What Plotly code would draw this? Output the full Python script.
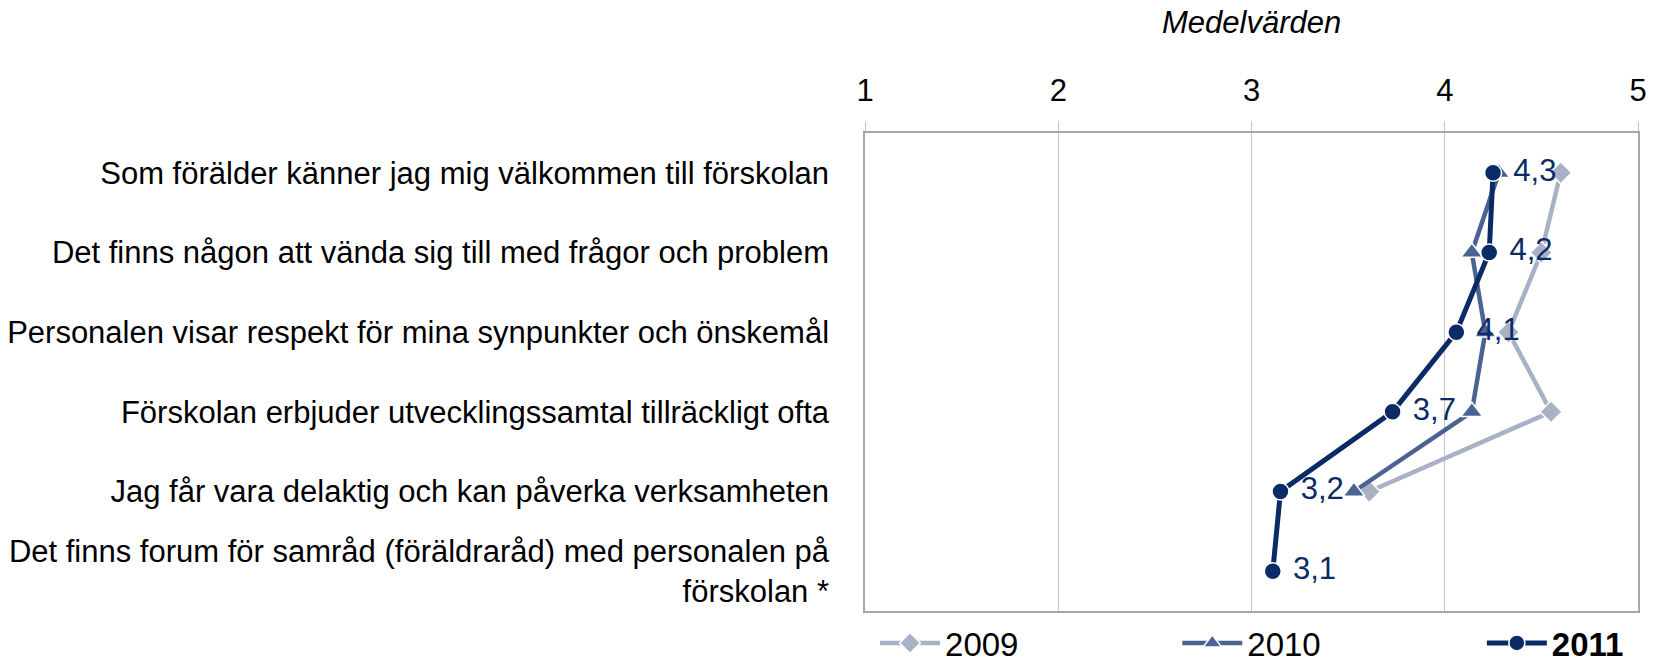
import plotly.graph_objects as go

categories = [
    "Som förälder känner jag mig välkommen till förskolan",
    "Det finns någon att vända sig till med frågor och problem",
    "Personalen visar respekt för mina synpunkter och önskemål",
    "Förskolan erbjuder utvecklingssamtal tillräckligt ofta",
    "Jag får vara delaktig och kan påverka verksamheten",
    "Det finns forum för samråd (föräldraråd) med personalen på<br>förskolan *",
]
v2009 = [4.60, 4.50, 4.33, 4.55, 3.61, None]
v2010 = [4.28, 4.14, 4.21, 4.14, 3.53, None]
v2011 = [4.25, 4.23, 4.06, 3.73, 3.15, 3.11]
labels2011 = ["4,3", "4,2", "4,1", "3,7", "3,2", "3,1"]
tick_vals = [1, 2, 3, 4, 5]

FONT = "Liberation Sans, Arial, sans-serif"
FS = 31
c09, c10, c11 = "#a9b1c6", "#4b6393", "#0b2b66"

fig = go.Figure()
fig.add_trace(go.Scatter(
    x=v2009, y=categories, name="2009", mode="lines+markers", legend="legend",
    line=dict(color=c09, width=4.5),
    marker=dict(symbol="diamond", size=17, color=c09, line=dict(color="white", width=1.5)),
))
fig.add_trace(go.Scatter(
    x=v2010, y=categories, name="2010", mode="lines+markers", legend="legend2",
    line=dict(color=c10, width=4.5),
    marker=dict(symbol="triangle-up", size=19, color=c10, line=dict(color="white", width=1.5)),
))
fig.add_trace(go.Scatter(
    x=v2011, y=categories, name="<b>2011</b>", mode="lines+markers+text", legend="legend3",
    text=["\u00a0" + t for t in labels2011], textposition="middle right",
    textfont=dict(family=FONT, size=FS, color=c11),
    line=dict(color=c11, width=5),
    marker=dict(symbol="circle", size=17, color=c11, line=dict(color="white", width=1.5)),
))

leg_common = dict(orientation="h", y=-0.067, xanchor="left", yanchor="middle",
                  itemwidth=60, bgcolor="rgba(0,0,0,0)",
                  font=dict(family=FONT, size=33, color="black"))

fig.update_layout(
    width=1657, height=663,
    margin=dict(l=865, r=19, t=133, b=52, autoexpand=False),
    paper_bgcolor="white", plot_bgcolor="white",
    font=dict(family=FONT, size=FS, color="black"),
    showlegend=True,
    legend=dict(x=0.013, **leg_common),
    legend2=dict(x=0.404, **leg_common),
    legend3=dict(x=0.798, **leg_common),
    xaxis=dict(side="top", range=[1, 5], tickvals=tick_vals, ticktext=[str(t) for t in tick_vals],
               showgrid=True, gridcolor="#c4c4c4", gridwidth=1,
               showline=True, linecolor="#a6a6a6", linewidth=1.5, mirror=True,
               ticks="outside", ticklen=10, tickcolor="#c4c4c4", ticklabelstandoff=8,
               zeroline=False, tickfont=dict(size=FS)),
    yaxis=dict(type="category", range=[5.5, -0.5], showgrid=False,
               showline=True, linecolor="#a6a6a6", linewidth=1.5, mirror=True,
               ticks="", ticklabelstandoff=28, tickfont=dict(size=FS)),
    annotations=[dict(text="<i>Medelvärden</i>", xref="paper", yref="paper", x=0.5,
                      y=(611 - 22.5) / 478, xanchor="center", yanchor="middle", showarrow=False,
                      font=dict(family=FONT, size=FS, color="black"))],
)

fig.write_html("out.html", config={"displayModeBar": False},
               post_script="document.body.style.margin='0';")
